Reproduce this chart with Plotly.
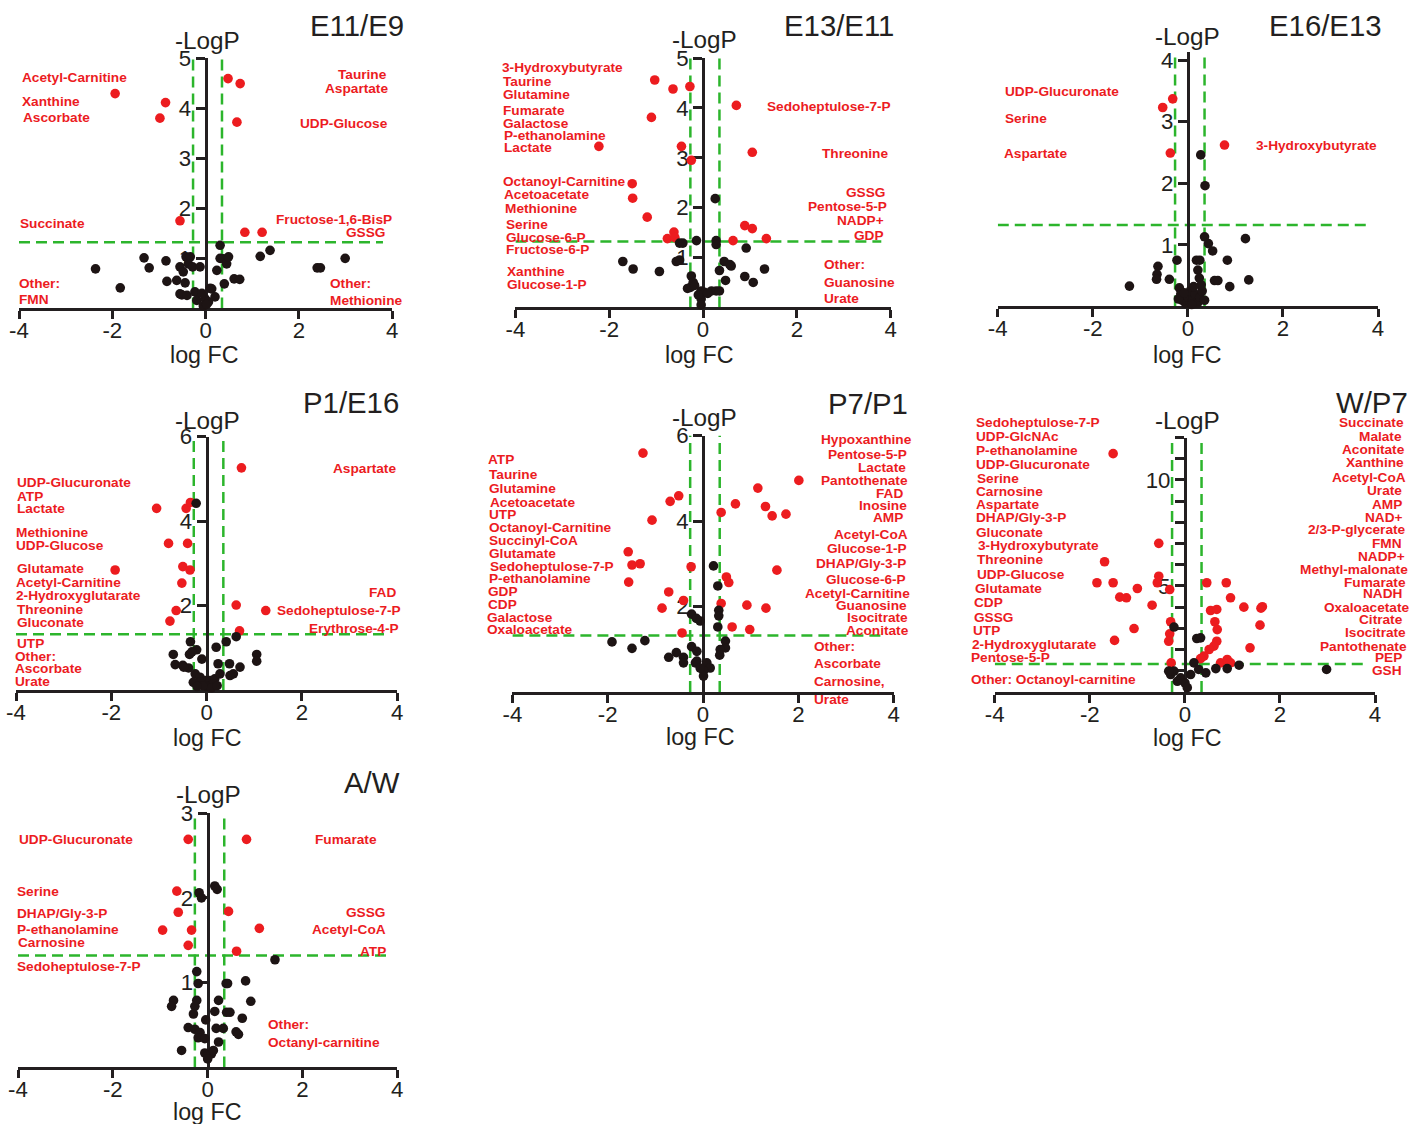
import plotly.graph_objects as go

# ---------------- DATA ----------------
panel_names = ["E11/E9", "E13/E11", "E16/E13", "P1/E16", "P7/P1", "W/P7", "A/W"]

# E11/E9
e11e9_sig_fc = [-1.94, -0.86, -0.98, 0.48, 0.74, 0.67, -0.55, 0.84, 1.21]
e11e9_sig_logp = [4.29, 4.11, 3.80, 4.59, 4.49, 3.72, 1.75, 1.52, 1.52]
e11e9_ns_fc = [-2.36, -1.83, -1.32, -1.21, -0.85, -0.83, -0.62, -0.55, -0.42, -0.33,
               -0.37, -0.48, -0.44, -0.55, -0.51, -0.40, -0.23, -0.19, -0.28, -0.12,
               -0.01, 0.06, 0.13, 0.20, 0.24, 0.31, 0.31, 0.38, 0.45, 0.49,
               0.40, 0.61, 0.73, 1.17, 1.38, 2.39, 2.46, 2.99, -0.05, 0.02,
               0.10, -0.08]
e11e9_ns_logp = [0.79, 0.41, 1.01, 0.81, 0.95, 0.54, 0.56, 0.83, 1.03, 1.03,
                 0.89, 0.73, 0.51, 0.29, 0.27, 0.26, 0.33, 0.16, 0.83, 0.83,
                 0.19, 0.13, 0.39, 0.23, 0.76, 1.26, 1.00, 0.99, 0.89, 1.03,
                 0.49, 0.59, 0.58, 1.04, 1.16, 0.81, 0.81, 1.00, 0.05, 0.08,
                 0.40, 0.30]

# E13/E11
e13e11_sig_fc = [-1.03, -0.64, -0.28, -1.10, 0.71, -2.22, -0.46, -0.25, 1.05, -1.51,
                 -1.50, -1.19, -0.62, -0.76, -0.60, 0.89, 1.05, 0.64, 1.35]
e13e11_sig_logp = [4.56, 4.38, 4.43, 3.81, 4.05, 3.23, 3.23, 2.95, 3.11, 2.48,
                   2.19, 1.81, 1.51, 1.38, 1.40, 1.64, 1.58, 1.34, 1.38]
e13e11_ns_fc = [0.26, -0.50, -0.43, -0.14, 0.28, 0.28, 0.92, -1.71, -1.49, -0.93,
                -0.57, -0.50, 0.45, 0.57, 0.60, 0.35, 0.48, 0.89, 1.07, 1.31,
                -0.25, -0.27, -0.21, -0.04, 0.03, 0.18, 0.28, 0.35, -0.04, -0.33,
                -0.18, -0.10, 0.10, -0.04]
e13e11_ns_logp = [2.18, 1.29, 1.29, 1.34, 1.34, 1.26, 1.19, 0.92, 0.77, 0.72,
                  0.92, 0.95, 0.92, 0.86, 0.83, 0.74, 0.54, 0.62, 0.50, 0.77,
                  0.63, 0.40, 0.50, 0.33, 0.30, 0.33, 0.33, 0.33, 0.17, 0.38,
                  0.44, 0.25, 0.28, 0.05]

# E16/E13
e16e13_sig_fc = [-0.32, -0.53, -0.37, 0.77]
e16e13_sig_logp = [3.37, 3.23, 2.49, 2.62]
e16e13_ns_fc = [0.27, 0.36, 0.35, 0.43, 0.52, 1.21, -0.23, 0.18, 0.25, 0.83,
                -0.63, -0.65, -0.66, -0.39, 0.21, 0.24, 0.56, 0.63, 0.88, 1.28,
                -1.23, -0.18, -0.15, -0.12, -0.05, 0.00, 0.05, 0.10, 0.15, 0.20,
                0.25, 0.30, 0.35, -0.20, 0.08, 0.28, -0.08, 0.12]
e16e13_ns_logp = [2.46, 1.96, 1.13, 1.02, 0.90, 1.10, 0.75, 0.75, 0.75, 0.75,
                  0.65, 0.52, 0.44, 0.44, 0.59, 0.46, 0.42, 0.42, 0.32, 0.43,
                  0.33, 0.30, 0.20, 0.10, 0.05, 0.15, 0.25, 0.10, 0.20, 0.05,
                  0.15, 0.25, 0.10, 0.12, 0.03, 0.35, 0.22, 0.32]

# P1/E16
p1e16_sig_fc = [0.73, -1.05, -0.43, -0.34, -0.80, -0.40, -1.92, -0.50, -0.35, -0.52,
                0.62, 1.24, -0.64, -0.77, 0.69]
p1e16_sig_logp = [5.26, 4.30, 4.30, 4.44, 3.47, 3.47, 2.84, 2.92, 2.84, 2.53,
                  2.01, 1.88, 1.88, 1.63, 1.40]
p1e16_ns_fc = [-0.22, 0.62, 0.41, 0.20, -0.34, -0.21, -0.70, -0.36, -0.10, 1.05,
               1.05, -0.66, -0.50, -0.38, 0.24, 0.48, 0.70, 0.56, 0.49, -0.24,
               -0.14, -0.03, 0.07, 0.17, -0.14, 0.14, 0.28, -0.28, -0.31, -0.48,
               0.00, 0.10, -0.08, 0.22, -0.20]
p1e16_ns_logp = [4.42, 1.26, 1.14, 1.01, 1.14, 0.95, 0.84, 0.84, 0.73, 0.84,
                 0.68, 0.60, 0.58, 0.52, 0.62, 0.62, 0.54, 0.38, 0.34, 0.38,
                 0.30, 0.22, 0.22, 0.26, 0.18, 0.14, 0.38, 0.18, 0.90, 0.54,
                 0.08, 0.05, 0.10, 0.10, 0.08]

# P7/P1
p7p1_sig_fc = [-1.26, 2.01, 1.15, -0.51, -0.69, 0.68, 1.31, 1.45, 1.74, 0.38,
               -1.07, -1.57, -1.49, -1.32, -0.25, 1.55, -1.56, 0.49, 0.54, -0.72,
               -0.86, -0.41, 0.38, 0.92, 1.32, 0.61, 0.98, -0.44]
p7p1_sig_logp = [5.59, 4.95, 4.77, 4.59, 4.46, 4.40, 4.34, 4.12, 4.16, 4.20,
                 4.02, 3.28, 2.97, 3.00, 2.93, 2.85, 2.57, 2.69, 2.56, 2.34,
                 1.96, 2.14, 2.07, 2.03, 1.96, 1.52, 1.46, 1.38]
p7p1_ns_fc = [0.22, 0.31, 0.33, 0.33, 0.31, -0.24, -0.14, -0.06, -1.91, -1.22,
              -1.49, -0.24, -0.13, -0.56, -0.41, -0.72, -0.41, 0.47, 0.47, 0.36,
              0.35, -0.16, 0.08, 0.15, 0.01, 0.01, -0.13, -0.06]
p7p1_ns_logp = [2.95, 2.48, 1.91, 1.78, 1.52, 1.82, 1.72, 1.66, 1.17, 1.20,
                1.02, 1.06, 0.95, 0.92, 0.81, 0.81, 0.68, 1.19, 1.03, 0.99,
                0.86, 0.68, 0.68, 0.56, 0.49, 0.37, 0.72, 0.56]

# W/P7
wp7_sig_fc = [-1.51, -0.55, -1.69, -1.85, -1.51, -1.00, -1.37, -1.23, -0.69, -0.55,
              -0.58, -0.32, 0.46, 0.87, 0.96, 1.24, 1.63, 1.60, 0.54, 0.67,
              0.63, 0.68, 1.58, -0.30, -1.07, -1.48, -0.32, -0.34, 0.67, 0.61,
              0.51, 0.40, 0.33, 1.37, 0.75, 0.89, 0.96, -0.29]
wp7_sig_logp = [11.24, 7.01, 6.14, 5.15, 5.15, 4.88, 4.47, 4.44, 4.09, 5.46,
                5.15, 4.83, 5.15, 5.15, 4.44, 4.00, 4.02, 3.95, 3.84, 3.89,
                3.31, 2.94, 3.15, 3.31, 2.99, 2.43, 2.74, 2.39, 2.39, 2.16,
                2.00, 1.69, 1.57, 2.08, 1.37, 1.53, 1.37, 1.37]
wp7_ns_fc = [-0.23, 0.25, 0.33, 0.19, 1.14, 2.98, 0.65, 0.89, -0.30, -0.23,
             -0.09, 0.00, 0.12, 0.29, 0.44, -0.16, -0.34, 0.05]
wp7_ns_logp = [3.06, 2.52, 2.55, 1.37, 1.26, 1.06, 1.10, 1.10, 0.82, 0.98,
               0.66, 0.43, 0.82, 1.06, 0.90, 0.50, 0.98, 0.20]

# A/W
aw_sig_fc = [-0.41, 0.82, -0.65, -0.62, 0.44, -0.95, -0.34, 1.09, -0.41, 0.61]
aw_sig_logp = [2.69, 2.69, 2.08, 1.83, 1.84, 1.62, 1.62, 1.64, 1.44, 1.37]
aw_ns_fc = [0.15, 0.20, -0.18, -0.13, 1.42, -0.23, -0.20, 0.39, 0.42, 0.80,
            -0.72, -0.76, -0.23, -0.27, 0.23, 0.91, -0.30, 0.15, 0.40, 0.47,
            -0.04, 0.73, -0.41, -0.27, -0.16, -0.20, -0.06, 0.18, 0.33, 0.60,
            0.65, 0.23, -0.55, -0.06, 0.01, 0.08, 0.12, 0.00]
aw_ns_logp = [2.14, 2.10, 2.06, 2.00, 1.27, 1.13, 0.99, 0.99, 0.99, 1.02,
              0.79, 0.72, 0.79, 0.72, 0.79, 0.78, 0.63, 0.66, 0.65, 0.65,
              0.56, 0.58, 0.47, 0.45, 0.41, 0.35, 0.34, 0.46, 0.46, 0.42,
              0.39, 0.30, 0.20, 0.17, 0.15, 0.16, 0.20, 0.10]

# y tick values/labels of each panel
e11e9_yticks = [1, 2, 3, 4, 5]
e13e11_yticks = [1, 2, 3, 4, 5]
e16e13_yticks = [1, 2, 3, 4]
p1e16_yticks = [2, 4, 6]
p7p1_yticks = [2, 4, 6]
wp7_yticks = [1, 2, 3, 4, 5, 6, 7, 8, 9, 10, 11, 12]
wp7_yticklabels = ["", "", "", "", "5", "", "", "", "", "10", "", ""]
aw_yticks = [1, 2, 3]
x_ticks = [-4, -2, 0, 2, 4]
x_ticklabels = ["-4", "-2", "0", "2", "4"]

# metabolite labels
e11e9_labels = ["Acetyl-Carnitine", "Xanthine", "Ascorbate", "Succinate", "Other:", "FMN",
                "Taurine", "Aspartate", "UDP-Glucose", "Fructose-1,6-BisP", "GSSG",
                "Other:", "Methionine"]
e13e11_labels = ["3-Hydroxybutyrate", "Taurine", "Glutamine", "Fumarate", "Galactose",
                 "P-ethanolamine", "Lactate", "Octanoyl-Carnitine", "Acetoacetate",
                 "Methionine", "Serine", "Glucose-6-P", "Fructose-6-P", "Xanthine",
                 "Glucose-1-P",
                 "Sedoheptulose-7-P", "Threonine", "GSSG", "Pentose-5-P", "NADP+", "GDP",
                 "Other:", "Guanosine", "Urate"]
e16e13_labels = ["UDP-Glucuronate", "Serine", "Aspartate", "3-Hydroxybutyrate"]
p1e16_labels = ["UDP-Glucuronate", "ATP", "Lactate", "Methionine", "UDP-Glucose",
                "Glutamate", "Acetyl-Carnitine", "2-Hydroxyglutarate", "Threonine",
                "Gluconate", "UTP", "Other:", "Ascorbate", "Urate",
                "Aspartate", "FAD", "Sedoheptulose-7-P", "Erythrose-4-P"]
p7p1_labels = ["ATP", "Taurine", "Glutamine", "Acetoacetate", "UTP", "Octanoyl-Carnitine",
               "Succinyl-CoA", "Glutamate", "Sedoheptulose-7-P", "P-ethanolamine", "GDP",
               "CDP", "Galactose", "Oxaloacetate",
               "Hypoxanthine", "Pentose-5-P", "Lactate", "Pantothenate", "FAD", "Inosine",
               "AMP", "Acetyl-CoA", "Glucose-1-P", "DHAP/Gly-3-P", "Glucose-6-P",
               "Acetyl-Carnitine", "Guanosine", "Isocitrate", "Aconitate",
               "Other:", "Ascorbate", "Carnosine,", "Urate"]
wp7_labels = ["Sedoheptulose-7-P", "UDP-GlcNAc", "P-ethanolamine", "UDP-Glucuronate",
              "Serine", "Carnosine", "Aspartate", "DHAP/Gly-3-P", "Gluconate",
              "3-Hydroxybutyrate", "Threonine", "UDP-Glucose", "Glutamate", "CDP",
              "GSSG", "UTP", "2-Hydroxyglutarate", "Pentose-5-P",
              "Other: Octanoyl-carnitine",
              "Succinate", "Malate", "Aconitate", "Xanthine", "Acetyl-CoA", "Urate",
              "AMP", "NAD+", "2/3-P-glycerate", "FMN", "NADP+", "Methyl-malonate",
              "Fumarate", "NADH", "Oxaloacetate", "Citrate", "Isocitrate",
              "Pantothenate", "PEP", "GSH"]
aw_labels = ["UDP-Glucuronate", "Serine", "DHAP/Gly-3-P", "P-ethanolamine", "Carnosine",
             "Sedoheptulose-7-P", "Fumarate", "GSSG", "Acetyl-CoA", "ATP",
             "Other:", "Octanyl-carnitine"]

# ---------------- LAYOUT / STYLE ----------------
W, H = 1424, 1124
# the photographed page shows the figure slightly offset and scaled; positions below are
# target picture pixels and are converted through this small correction
OX, OY, S = 10.0, 12.0, 0.988
RED = "#ec1c1f"
BLACK = "#1d1414"
GREEN = "#2cb52c"
AXC = "#231f20"
FONT = "Liberation Sans, Arial, sans-serif"

# label positions (picture pixels): (anchor, x, y), aligned to label lists
e11e9_pos = [("l", 21, 77), ("l", 21, 101), ("l", 22, 117), ("l", 19, 223), ("l", 18, 283), ("l", 18, 299),
             ("r", 388, 74), ("r", 389, 88), ("r", 389, 123), ("r", 393, 219), ("r", 386, 232),
             ("l", 329, 283), ("l", 329, 300)]
e13e11_pos = [("l", 501, 67), ("l", 502, 81), ("l", 502, 94), ("l", 502, 110), ("l", 502, 123),
              ("l", 503, 135), ("l", 503, 147), ("l", 502, 181), ("l", 503, 194), ("l", 504, 208),
              ("l", 505, 224), ("l", 505, 237), ("l", 505, 249), ("l", 506, 271), ("l", 506, 284),
              ("r", 891, 106), ("r", 888, 153), ("r", 885, 192), ("r", 887, 206), ("r", 884, 220),
              ("r", 884, 235), ("l", 822, 264), ("l", 822, 282), ("l", 822, 298)]
e16e13_pos = [("l", 1003, 91), ("l", 1003, 118), ("l", 1002, 153), ("l", 1254, 145)]
p1e16_pos = [("l", 16, 482), ("l", 16, 496), ("l", 16, 508), ("l", 15, 532), ("l", 15, 545),
             ("l", 16, 568), ("l", 15, 582), ("l", 15, 595), ("l", 16, 609), ("l", 16, 622),
             ("l", 16, 643), ("l", 14, 656), ("l", 14, 668), ("l", 14, 681),
             ("r", 397, 468), ("r", 397, 592), ("r", 402, 610), ("r", 400, 628)]
p7p1_pos = [("l", 487, 459), ("l", 488, 474), ("l", 488, 488), ("l", 489, 502), ("l", 488, 514),
            ("l", 488, 527), ("l", 488, 540), ("l", 488, 553), ("l", 489, 566), ("l", 488, 578),
            ("l", 487, 591), ("l", 487, 604), ("l", 486, 617), ("l", 486, 629),
            ("r", 912, 439), ("r", 907, 454), ("r", 906, 467), ("r", 908, 480), ("r", 903, 493),
            ("r", 907, 505), ("r", 903, 517), ("r", 908, 534), ("r", 907, 548), ("r", 906, 563),
            ("r", 906, 579), ("r", 910, 593), ("r", 907, 605), ("r", 908, 617), ("r", 909, 630),
            ("l", 812, 646), ("l", 812, 663), ("l", 812, 681), ("l", 812, 699)]
wp7_pos = [("l", 974, 422), ("l", 974, 436), ("l", 974, 450), ("l", 974, 464), ("l", 975, 478),
           ("l", 974, 491), ("l", 974, 504), ("l", 974, 517), ("l", 974, 532), ("l", 976, 545),
           ("l", 975, 559), ("l", 975, 574), ("l", 973, 588), ("l", 972, 602), ("l", 972, 617),
           ("l", 971, 630), ("l", 970, 644), ("l", 969, 657), ("l", 969, 679),
           ("r", 1404, 422), ("r", 1402, 436), ("r", 1405, 449), ("r", 1404, 462), ("r", 1406, 477),
           ("r", 1402, 490), ("r", 1402, 504), ("r", 1403, 517), ("r", 1406, 529), ("r", 1402, 543),
           ("r", 1405, 556), ("r", 1408, 569), ("r", 1406, 582), ("r", 1402, 593), ("r", 1409, 607),
           ("r", 1403, 619), ("r", 1406, 632), ("r", 1407, 646), ("r", 1402, 657), ("r", 1402, 670)]
aw_pos = [("l", 18, 838), ("l", 16, 890), ("l", 16, 912), ("l", 16, 928), ("l", 17, 941),
          ("l", 16, 965), ("r", 378, 838), ("r", 386, 911), ("r", 387, 928), ("r", 387, 950),
          ("l", 267, 1023), ("l", 267, 1041)]

# panel geometry in picture pixels: x at -4, x at +4, y-baseline, y-top, y-range max
geom = [
    (19, 392, 308, 58, 5.0),
    (515, 890, 307, 58, 5.0),
    (997, 1377, 306, 52, 4.13),
    (16, 397, 689, 436, 6.0),
    (512, 893, 691, 435, 6.0),
    (994, 1374, 691, 437, 12.0),
    (18, 397, 1066, 812, 3.0),
]
ylogp_pos = [(207, 40), (704, 39), (1187, 36), (207, 420), (704, 417), (1187, 420), (208, 793)]
xfc_pos = [(204, 355), (699, 355), (1187, 355), (207, 737), (700, 736), (1187, 737), (207, 1111)]
title_pos = [(405, 25), (894, 25), (1382, 25), (400, 402), (908, 403), (1408, 402), (401, 781)]

panels = [
    (e11e9_sig_fc, e11e9_sig_logp, e11e9_ns_fc, e11e9_ns_logp, e11e9_yticks, None, e11e9_labels, e11e9_pos),
    (e13e11_sig_fc, e13e11_sig_logp, e13e11_ns_fc, e13e11_ns_logp, e13e11_yticks, None, e13e11_labels, e13e11_pos),
    (e16e13_sig_fc, e16e13_sig_logp, e16e13_ns_fc, e16e13_ns_logp, e16e13_yticks, None, e16e13_labels, e16e13_pos),
    (p1e16_sig_fc, p1e16_sig_logp, p1e16_ns_fc, p1e16_ns_logp, p1e16_yticks, None, p1e16_labels, p1e16_pos),
    (p7p1_sig_fc, p7p1_sig_logp, p7p1_ns_fc, p7p1_ns_logp, p7p1_yticks, None, p7p1_labels, p7p1_pos),
    (wp7_sig_fc, wp7_sig_logp, wp7_ns_fc, wp7_ns_logp, wp7_yticks, wp7_yticklabels, wp7_labels, wp7_pos),
    (aw_sig_fc, aw_sig_logp, aw_ns_fc, aw_ns_logp, aw_yticks, None, aw_labels, aw_pos),
]

FC_LO, FC_HI, P_THR = -0.27, 0.35, 1.32

fig = go.Figure()
layout = dict(width=W, height=H, margin=dict(l=0, r=0, t=0, b=0),
              paper_bgcolor="white", plot_bgcolor="rgba(0,0,0,0)", showlegend=False,
              font=dict(family=FONT, color=AXC))
shapes, annos = [], []

def px(x): return ((x - OX) / S) / W
def py(y): return 1 - ((y - OY) / S) / H
def fs(v): return v / S

for i, (sfc, slp, nfc, nlp, yt, ytl, labs, pos) in enumerate(panels):
    k = "" if i == 0 else str(i + 1)
    xa, ya = "x" + k, "y" + k
    x0, x1, yb, ytop, ymax = geom[i]
    fig.add_trace(go.Scatter(x=sfc, y=slp, mode="markers", xaxis=xa, yaxis=ya,
                             marker=dict(size=fs(9.5), color=RED), cliponaxis=False, hoverinfo="skip"))
    fig.add_trace(go.Scatter(x=nfc, y=nlp, mode="markers", xaxis=xa, yaxis=ya,
                             marker=dict(size=fs(9.5), color=BLACK), cliponaxis=False, hoverinfo="skip"))
    layout["xaxis" + k] = dict(domain=[px(x0), px(x1)], range=[-4, 4], anchor=ya,
                               tickvals=x_ticks, ticktext=x_ticklabels, ticks="outside",
                               ticklen=8, tickwidth=3, tickcolor=AXC, showline=True,
                               linewidth=3, linecolor=AXC, showgrid=False, zeroline=False,
                               ticklabelstandoff=-8,
                               tickfont=dict(size=fs(22), family=FONT, color=AXC), layer="below traces")
    layout["yaxis" + k] = dict(domain=[py(yb), py(ytop)], range=[0, ymax], anchor="free",
                               position=px((x0 + x1) / 2), tickvals=yt,
                               ticktext=ytl if ytl else [str(v) for v in yt],
                               ticks="outside", ticklen=9, tickwidth=3, tickcolor=AXC,
                               showline=True, linewidth=3, linecolor=AXC, showgrid=False,
                               zeroline=False, tickfont=dict(size=fs(22), family=FONT, color=AXC),
                               layer="below traces")
    dash = dict(color=GREEN, width=2.5, dash="11px,6px")
    for xv in (FC_LO, FC_HI):
        shapes.append(dict(type="line", xref=xa, yref=ya, x0=xv, x1=xv, y0=0, y1=ymax,
                           line=dash, layer="below"))
    shapes.append(dict(type="line", xref=xa, yref=ya, x0=-4, x1=3.8, y0=P_THR, y1=P_THR,
                       line=dash, layer="below"))
    lx, ly = ylogp_pos[i]
    annos.append(dict(text="-LogP", x=px(lx), y=py(ly), xref="paper", yref="paper",
                      showarrow=False, xanchor="center", yanchor="middle", borderpad=0,
                      font=dict(size=fs(24), family=FONT, color=AXC)))
    fx, fy = xfc_pos[i]
    annos.append(dict(text="log FC", x=px(fx), y=py(fy), xref="paper", yref="paper",
                      showarrow=False, xanchor="center", yanchor="middle", borderpad=0,
                      font=dict(size=fs(23), family=FONT, color=AXC)))
    tx, ty = title_pos[i]
    annos.append(dict(text=panel_names[i], x=px(tx), y=py(ty), xref="paper", yref="paper",
                      showarrow=False, xanchor="right", yanchor="middle", borderpad=0,
                      font=dict(size=fs(29), family=FONT, color=AXC)))
    for t, (anc, lxp, lyp) in zip(labs, pos):
        annos.append(dict(text=t, x=px(lxp), y=py(lyp), xref="paper", yref="paper",
                          showarrow=False, xanchor="left" if anc == "l" else "right",
                          yanchor="middle", borderpad=0,
                          font=dict(size=fs(13.5), family=FONT, color=RED, weight="bold")))

layout["shapes"] = shapes
layout["annotations"] = annos
fig.update_layout(**layout)
fig.write_html("out.html")
